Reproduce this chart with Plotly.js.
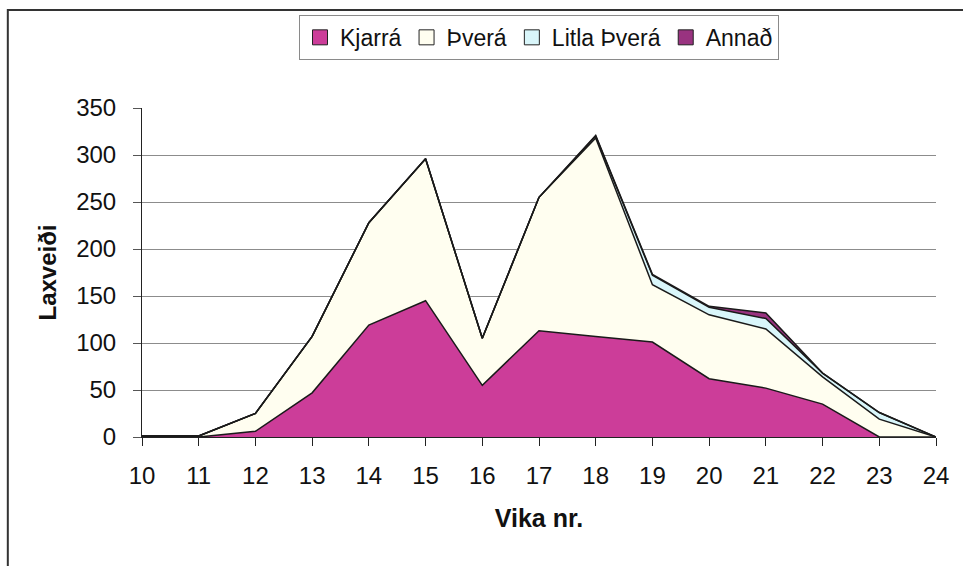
<!DOCTYPE html>
<html>
<head>
<meta charset="utf-8">
<script src="https://cdn.plot.ly/plotly-3.0.1.min.js"></script>
<style>
  html, body { margin: 0; padding: 0; background: #ffffff; }
  #chart { width: 963px; height: 566px; }
</style>
</head>
<body>
<div id="chart"></div>
<script>
const weeks = [10, 11, 12, 13, 14, 15, 16, 17, 18, 19, 20, 21, 22, 23, 24];
const seriesNames = ["Kjarrá", "Þverá", "Litla Þverá", "Annað"];
const kjarra = [0, 0, 6, 47, 119, 145, 55, 113, 107, 101, 62, 52, 35, 0, 0];
const thvera = [1, 1, 19, 60, 109, 151, 50, 142, 211, 61, 68, 63, 29, 19, 0];
const litlaThvera = [0, 0, 0, 0, 0, 0, 0, 0, 2, 10, 8, 11, 4, 7, 0];
const annad = [0, 0, 0, 0, 0, 0, 0, 0, 1, 1, 1, 6, 0, 0, 0];
const yTicks = [0, 50, 100, 150, 200, 250, 300, 350];

const fillColors = ["#CC3D99", "#FFFEF0", "#D9F6FA", "#993380"];
const values = [kjarra, thvera, litlaThvera, annad];

const areaTraces = values.map((v, i) => ({
  type: "scatter",
  mode: "lines",
  x: weeks,
  y: v,
  name: seriesNames[i],
  stackgroup: "one",
  fillcolor: fillColors[i],
  line: { color: "#1a1a1a", width: 1.5 },
  showlegend: false,
  legendgroup: "g" + i
}));

// legend-only entries with square swatches (no data drawn)
const legendTraces = seriesNames.map((n, i) => ({
  type: "scatter",
  mode: "markers",
  x: [null],
  y: [null],
  name: n,
  legendgroup: "g" + i,
  marker: { symbol: "square", size: 15, color: fillColors[i], line: { color: "#222222", width: 1 } }
}));

const font = "Arial, 'Liberation Sans', sans-serif";

const layout = {
  width: 963,
  height: 566,
  paper_bgcolor: "#ffffff",
  plot_bgcolor: "#ffffff",
  margin: { l: 142, r: 27, t: 108, b: 129, pad: 0 },
  font: { family: font, size: 24, color: "#111111" },
  showlegend: true,
  legend: {
    orientation: "h",
    x: 0.5,
    xanchor: "center",
    y: 1.283,
    yanchor: "top",
    bordercolor: "#8a8a8a",
    borderwidth: 1,
    bgcolor: "#ffffff",
    font: { family: font, size: 23, color: "#111111" },
    traceorder: "normal",
    itemwidth: 30,
    tracegroupgap: 0
  },
  xaxis: {
    range: [10, 24],
    tickmode: "array",
    tickvals: weeks,
    ticktext: weeks.map(String),
    ticks: "outside",
    ticklen: 8,
    tickcolor: "#222222",
    ticklabelstandoff: 9,
    showline: true,
    linecolor: "#222222",
    linewidth: 1,
    showgrid: false,
    zeroline: false,
    tickfont: { family: font, size: 24, color: "#111111" },
    title: { text: "<b>Vika nr.</b>", font: { family: font, size: 25, color: "#111111" }, standoff: 21 },
    fixedrange: true
  },
  yaxis: {
    range: [0, 350],
    tickmode: "array",
    tickvals: yTicks,
    ticktext: yTicks.map(String),
    ticks: "outside",
    ticklen: 8,
    tickcolor: "#555555",
    ticklabelstandoff: 12,
    showline: true,
    linecolor: "#222222",
    linewidth: 1,
    showgrid: true,
    gridcolor: "#8c8c8c",
    gridwidth: 1,
    zeroline: false,
    tickfont: { family: font, size: 24, color: "#111111" },
    title: { text: "<b>Laxveiði</b>", font: { family: font, size: 24, color: "#111111" }, standoff: 12 },
    fixedrange: true
  },
  shapes: [
    {
      type: "rect",
      xref: "paper", yref: "paper",
      x0: -0.169, x1: 1.2,
      y0: -0.6, y1: 1.298,
      line: { color: "#333333", width: 2 },
      fillcolor: "rgba(0,0,0,0)",
      layer: "below"
    }
  ]
};

Plotly.newPlot("chart", areaTraces.concat(legendTraces), layout, { displayModeBar: false, staticPlot: true });
</script>
</body>
</html>
